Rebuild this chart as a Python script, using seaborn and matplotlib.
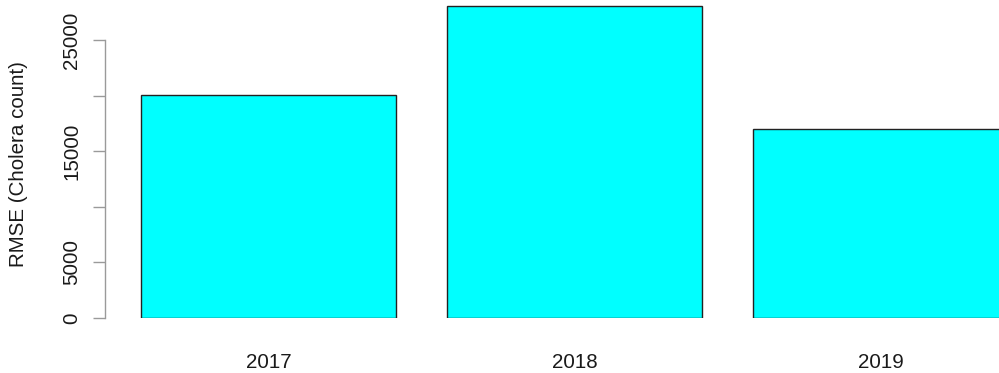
"""Bar chart of RMSE per year (cholera counts)."""
import matplotlib
matplotlib.use('Agg')
import matplotlib.pyplot as plt
import pandas as pd
import seaborn as sns

years = ['2017', '2018', '2019']
rmse = [20050, 28050, 17000]
y_ticks = [0, 5000, 10000, 15000, 20000, 25000]
y_tick_labels = ['0', '5000', '', '15000', '', '25000']

sns.set_style('white')
plt.rcParams['font.family'] = ['Liberation Sans', 'DejaVu Sans']

df = pd.DataFrame({'year': years, 'rmse': rmse})

fig = plt.figure(figsize=(9.99, 3.73), dpi=100)
# axes run past the right edge, the last bar is clipped like in the original
ax = fig.add_axes([105 / 999, 55 / 373, 915 / 999, 318 / 373])

sns.barplot(data=df, x='year', y='rmse', color='#00ffff', saturation=1,
            edgecolor='#222222', linewidth=1.0, width=1 / 1.2, ax=ax)

ax.set_xlim(-0.534, 2.456)
ax.set_ylim(0, 28598)

for side in ['top', 'right', 'bottom']:
    ax.spines[side].set_visible(False)
ax.spines['left'].set_color('#9a9a9a')
ax.spines['left'].set_linewidth(1.0)
ax.spines['left'].set_bounds(0, 25000)

ax.set_yticks(y_ticks)
ax.set_yticklabels(y_tick_labels, rotation=90, va='center', fontsize=14.8, color='#1a1a1a')
ax.tick_params(axis='y', length=9, width=1.0, color='#9a9a9a', pad=8, left=True)
ax.tick_params(axis='x', length=0, pad=25, labelsize=14.8, labelcolor='#1a1a1a')

ax.set_xlabel('')
ax.set_ylabel('RMSE (Cholera count)', fontsize=14.8, color='#1a1a1a', va='center')
ax.yaxis.set_label_coords(-0.094, 0.485)
ax.grid(False)

fig.savefig('out.png', dpi=100)
plt.close(fig)
